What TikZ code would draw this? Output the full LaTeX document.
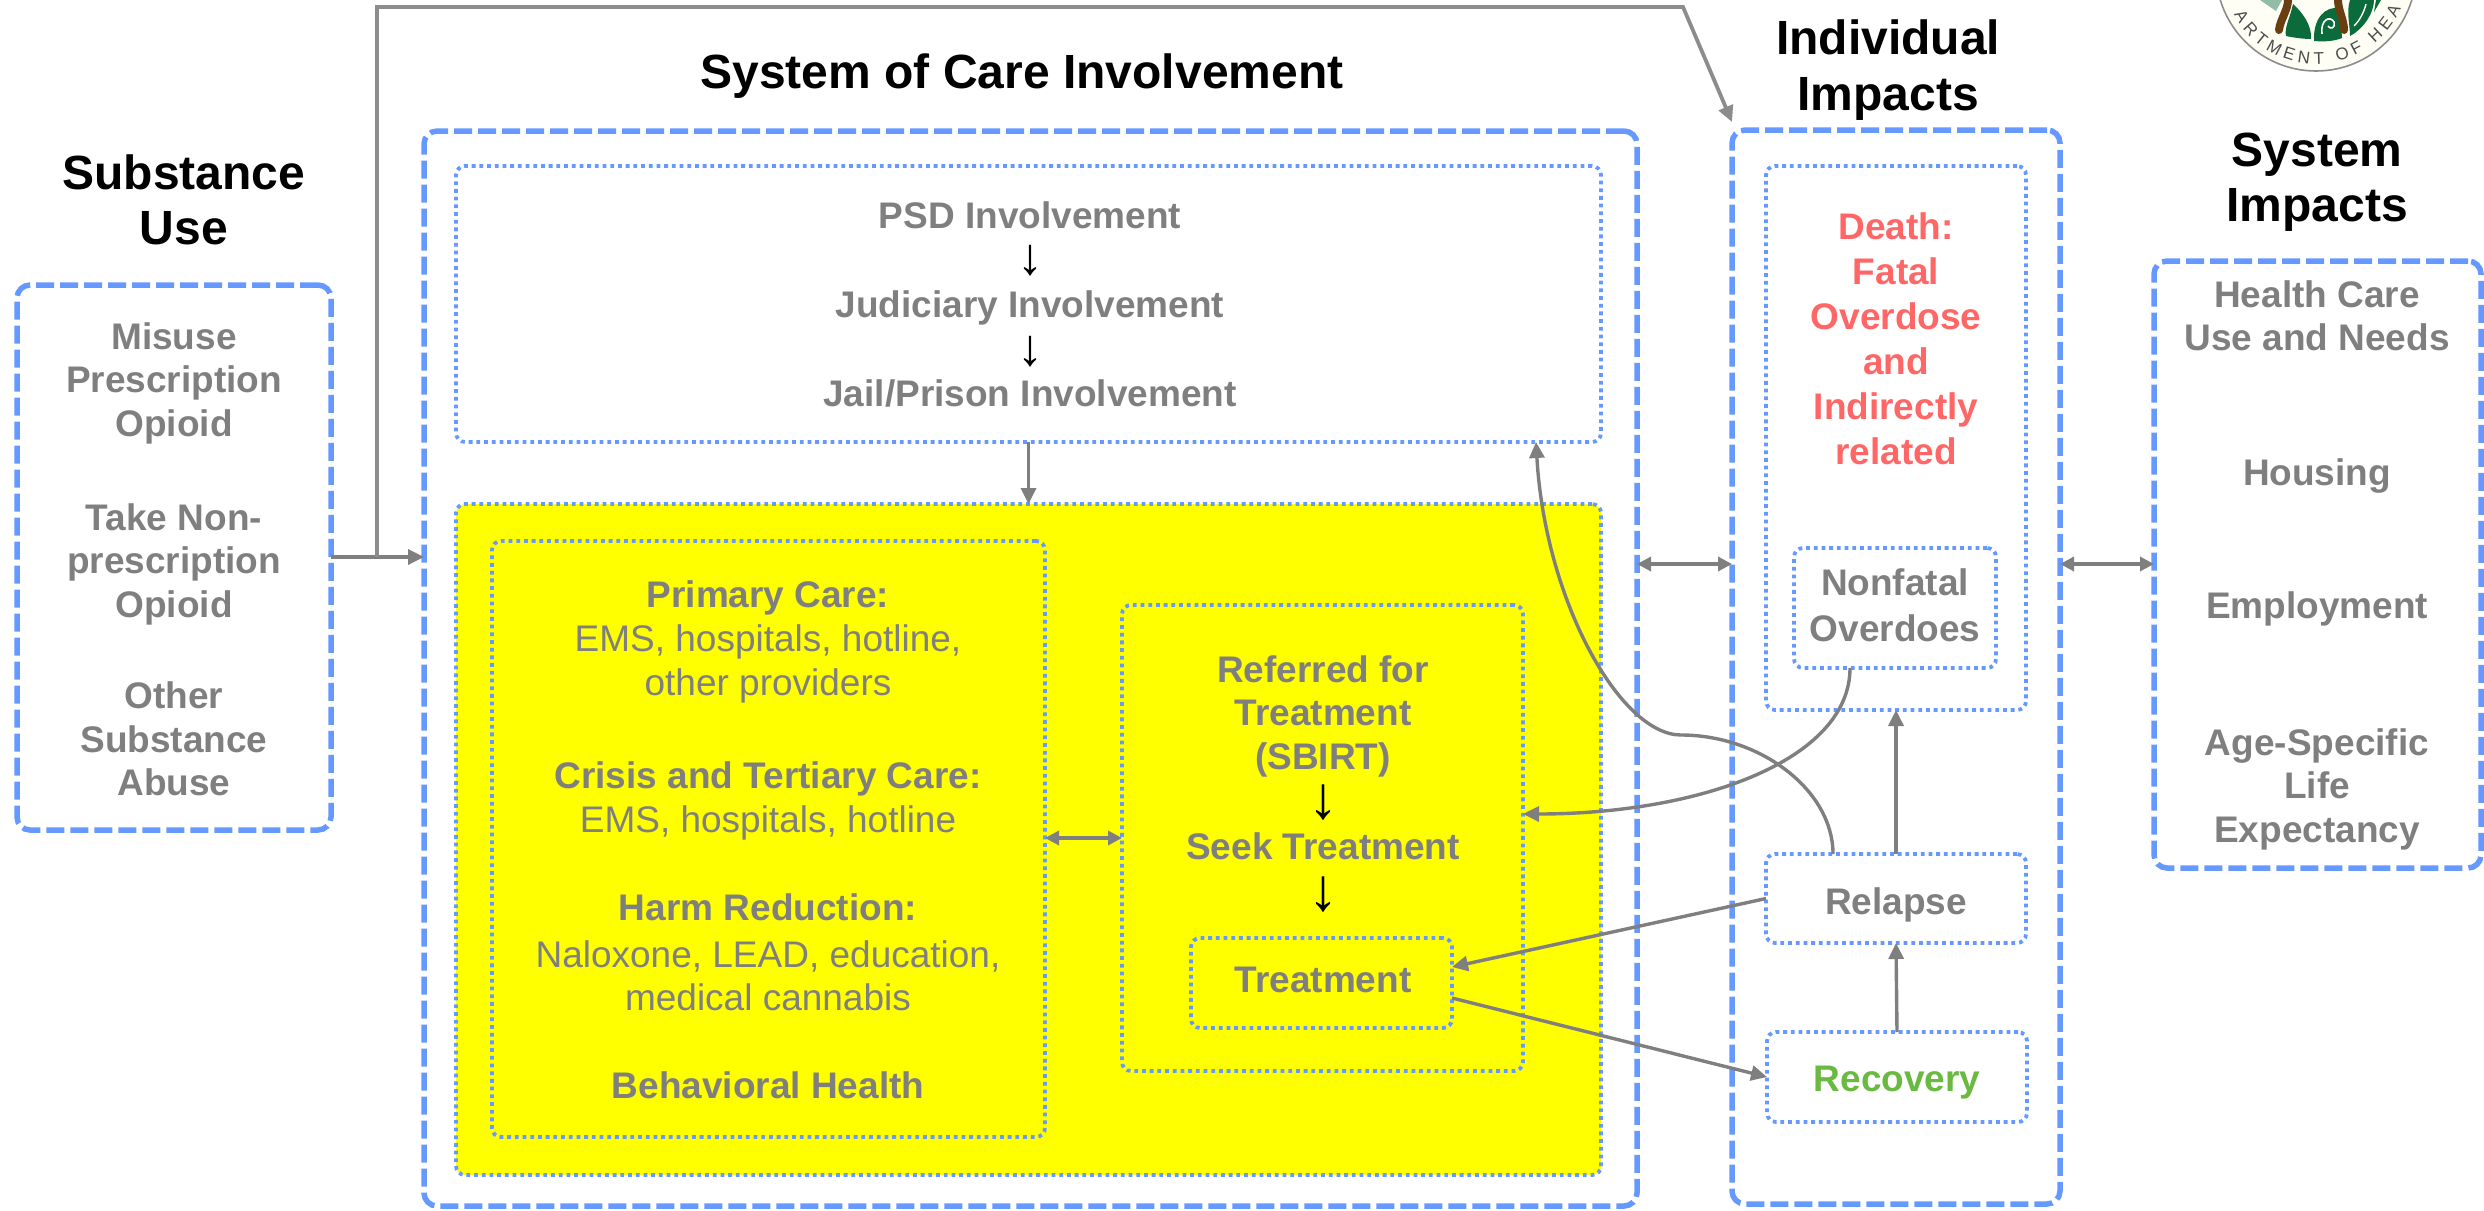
\documentclass[tikz,border=0pt]{standalone}
\usepackage{fontspec}
\setmainfont{Liberation Sans}
\usetikzlibrary{arrows.meta,decorations.text}
\definecolor{bluebox}{HTML}{6699FF}
\definecolor{graytxt}{HTML}{7F7F7F}
\definecolor{deathred}{HTML}{FF6666}
\definecolor{recgreen}{HTML}{6AB941}
\definecolor{sealgreen}{HTML}{0B6B3A}
\definecolor{sealbrown}{HTML}{6B3E12}
\definecolor{pureyellow}{HTML}{FFFF00}
\tikzset{
  dashbox/.style={draw=bluebox,line width=5.5pt,dash pattern=on 18pt off 6pt,rounded corners=13pt,inner sep=0pt,outer sep=0pt},
  dotbox/.style={draw=bluebox,line width=3.8pt,dash pattern=on 3.8pt off 3.9pt,rounded corners=9pt,inner sep=0pt,outer sep=0pt},
  title/.style={font=\fontsize{48}{55.5}\selectfont\bfseries,text=black,align=center,inner sep=0pt},
  label/.style={font=\fontsize{37}{43.5}\selectfont\bfseries,text=graytxt,align=center,inner sep=0pt},
  plain/.style={font=\fontsize{37}{43.5}\selectfont,text=graytxt,align=center,inner sep=0pt},
  arrowglyph/.style={font=\fontsize{52}{52}\selectfont,text=black,inner sep=0pt},
  bigglyph/.style={font=\fontsize{60}{60}\selectfont,text=black,inner sep=0pt},
  conn/.style={draw=graytxt,line width=3.4pt,-{Triangle[length=16pt,width=15pt]}},
  biconn/.style={draw=graytxt,line width=3.4pt,{Triangle[length=14pt,width=14pt]}-{Triangle[length=14pt,width=14pt]}},
}
\newcommand{\bx}[6]{\node[#6,minimum width={(#4-#2)*1pt},minimum height={(#5-#3)*1pt}] (#1) at ({(#2+#4)/2},{(#3+#5)/2}) {};}
\begin{document}
\begin{tikzpicture}[x=1pt,y=-1pt]
\useasboundingbox (0,0) rectangle (2484,1210);
% seal
\begin{scope}
\clip (2200,0) rectangle (2440,90);
\draw[draw=black!45,fill=white!96!yellow,line width=1.6pt] (2316,-29) circle[radius=100];
\fill[sealgreen!45!white] (2260,0) -- (2282,0) -- (2276,11) -- cycle;
\fill[sealgreen] (2293,4) .. controls (2290,18) and (2284,28) .. (2286,36) .. controls (2295,38) and (2305,39) .. (2311,39) .. controls (2312,25) and (2302,12) .. (2293,4) -- cycle;
\fill[sealgreen] (2314,41) .. controls (2325,42) and (2335,41) .. (2342,38) -- (2340,8) .. controls (2325,6) and (2313,18) .. (2314,41) -- cycle;
\draw[white,line width=1.6pt] (2322,34) .. controls (2320,20) and (2330,15) .. (2334,22) .. controls (2336,28) and (2330,30) .. (2328,26);
\fill[sealgreen] (2350,0) -- (2374,0) .. controls (2374,14) and (2362,30) .. (2350,36) .. controls (2350,25) and (2346,12) .. (2350,0) -- cycle;
\draw[white,line width=1.4pt] (2354,26) .. controls (2360,20) and (2364,12) .. (2366,4);
\fill[sealgreen] (2376,0) -- (2381,0) -- (2374,12) -- cycle;
\draw[sealbrown,line width=8pt,line cap=round] (2288,0) .. controls (2288,10) and (2280,20) .. (2279,30);
\draw[sealbrown,line width=8pt,line cap=round] (2338,0) .. controls (2338,10) and (2344,20) .. (2344,30);
\path[decorate,decoration={text along path,text align={fit to path},text={|\fontsize{17}{17}\selectfont\color{black!70}|ARTMENT OF HEA}}]
  (2316,-29) ++(152:93) arc[start angle=152,end angle=24,radius=93];
\end{scope}
% boxes
\bx{subbox}{17}{285}{331}{830}{dashbox}
\bx{careb}{424}{131}{1637}{1206}{dashbox}
\bx{indb}{1732}{130}{2060}{1204}{dashbox}
\bx{sysb}{2154}{261}{2481}{868}{dashbox}
\bx{psd}{456}{166}{1601}{442}{dotbox}
\bx{yellow}{456}{504}{1601}{1175}{dotbox,fill=pureyellow}
\bx{primary}{492}{541}{1045}{1137}{dotbox}
\bx{refd}{1122}{605}{1523}{1071}{dotbox}
\bx{treat}{1191}{938}{1452}{1028}{dotbox}
\bx{death}{1766}{166}{2026}{710}{dotbox}
\bx{nonfatal}{1794}{548}{1996}{668}{dotbox}
\bx{relapse}{1766}{854}{2026}{943}{dotbox}
\bx{recovery}{1767}{1032}{2027}{1122}{dotbox}
% titles
\node[title] (t1) at (184,200) {Substance\\Use};
\node[title] (t2) at (1022,76) {System of Care Involvement};
\node[title] (t3) at (1888,70) {Individual\\Impacts};
\node[title] (t4) at (2317,182) {System\\Impacts};
% substance
\node[label] (s1) at (174,383) {Misuse\\Prescription\\Opioid};
\node[label] (s2) at (174,564) {Take Non-\\prescription\\Opioid};
\node[label] (s3) at (174,739) {Other\\Substance\\Abuse};
% PSD
\node[label] (p1) at (1030,215) {PSD Involvement};
\node[arrowglyph] (a1) at (1030,261) {↓};
\node[label] (p2) at (1030,308) {Judiciary Involvement};
\node[arrowglyph] (a2) at (1030,352) {↓};
\node[label] (p3) at (1030,393) {Jail/Prison Involvement};
% primary
\node[label] (c1) at (768,598) {Primary Care:};
\node[plain] (c2) at (768,664) {EMS, hospitals, hotline,\\other providers};
\node[label] (c3) at (768,779) {Crisis and Tertiary Care:};
\node[plain] (c4) at (768,823) {EMS, hospitals, hotline};
\node[label] (c5) at (768,907) {Harm Reduction:};
\node[plain] (c6) at (768,976) {Naloxone, LEAD, education,\\medical cannabis};
\node[label] (c7) at (768,1085) {Behavioral Health};
% referred
\node[label] (r1) at (1323,716) {Referred for\\Treatment\\(SBIRT)};
\node[bigglyph] (a3) at (1323,803) {↓};
\node[label] (r2) at (1323,846) {Seek Treatment};
\node[bigglyph] (a4) at (1323,895) {↓};
\node[label] (r3) at (1323,980) {Treatment};
% individual
\node[label,text=deathred,font=\fontsize{37}{45}\selectfont\bfseries] (d1) at (1896,339) {Death:\\Fatal\\Overdose\\and\\Indirectly\\related};
\node[label,font=\fontsize{37}{46}\selectfont\bfseries] (n1) at (1895,605) {Nonfatal\\Overdoes};
\node[label] (rel) at (1896,905) {Relapse};
\node[label,text=recgreen] (rec) at (1897,1083) {Recovery};
% system impacts
\node[label] (i1) at (2317,316) {Health Care\\Use and Needs};
\node[label] (i2) at (2317,476) {Housing};
\node[label] (i3) at (2317,609) {Employment};
\node[label] (i4) at (2317,789) {Age-Specific\\Life\\Expectancy};
% connectors
\coordinate (branch) at (377,557);
\coordinate (upleft) at (377,7);
\coordinate (upright) at (1683,7);
\coordinate (tipind) at (1732,122);
\draw[conn] (subbox.east |- branch) -- (careb.west |- branch);
\draw[conn,draw=gray!90,line width=3.8pt] (branch) -- (upleft) -- (upright) -- (tipind);
\draw[conn] (psd.south) -- (yellow.north);
\draw[biconn] (careb.east |- 0,564) -- (indb.west |- 0,564);
\draw[biconn] (indb.east |- 0,564) -- (sysb.west |- 0,564);
\draw[biconn] (primary.east |- 0,838) -- (refd.west |- 0,838);
\draw[conn] (nonfatal.south -| 1850,0) .. controls (1850,760) and (1700,814) .. (refd.east |- 0,814);
\draw[conn] (relapse.north -| 1833,0) .. controls (1833,790) and (1760,735) .. (1681,735) .. controls (1620,735) and (1545,600) .. (psd.south -| 1536,0);
\draw[conn] (relapse.west) -- ([yshift=16pt]treat.east);
\draw[conn] ([yshift=-15pt]treat.east) -- (recovery.west);
\draw[conn] (relapse.north) -- (death.south -| relapse.north);
\draw[conn] (recovery.north) -- (relapse.south);
\end{tikzpicture}
\end{document}
